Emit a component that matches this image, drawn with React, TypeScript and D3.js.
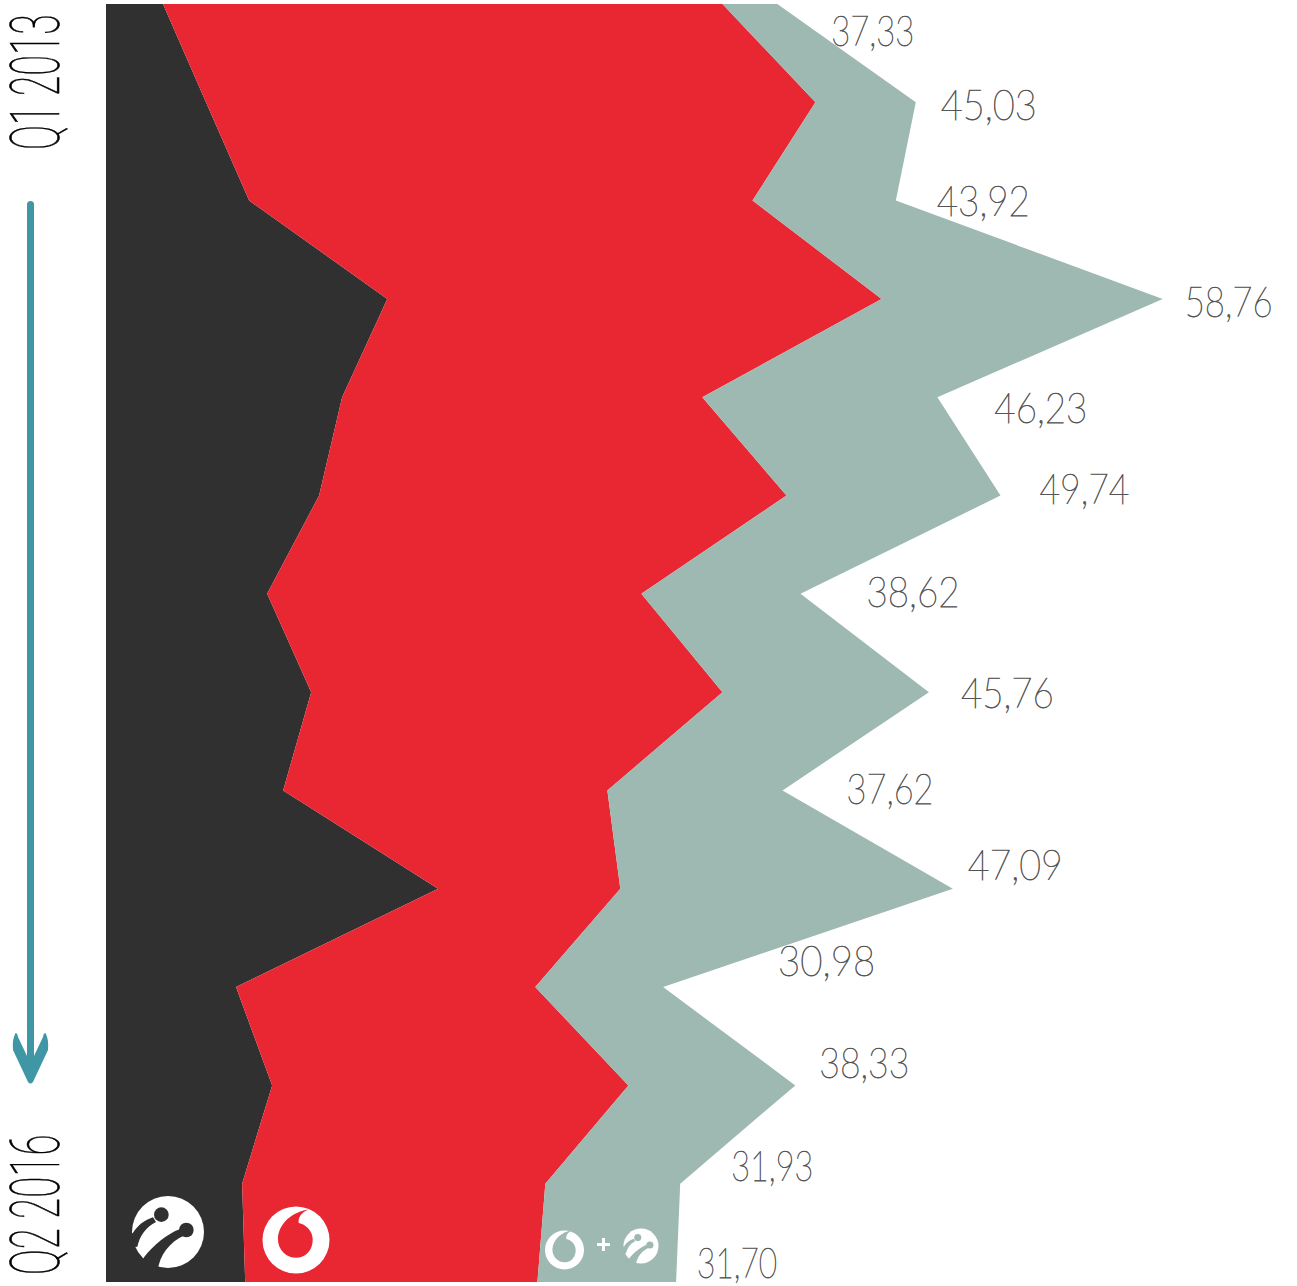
import React from "react";
import * as d3 from "d3";

const quarters = ["Q1 2013","Q2 2013","Q3 2013","Q4 2013","Q1 2014","Q2 2014","Q3 2014","Q4 2014","Q1 2015","Q2 2015","Q3 2015","Q4 2015","Q1 2016","Q2 2016"];
const turkcell = [3.17,5.56,7.96,15.64,13.13,11.85,8.96,11.41,9.85,18.47,7.23,9.24,7.57,7.74];
const vodafone = [31.11,33.89,27.99,27.49,20.03,25.99,20.81,22.87,18.03,10.13,16.64,19.81,16.86,16.25];
const totals = [37.33,45.03,43.92,58.76,46.23,49.74,38.62,45.76,37.62,47.09,30.98,38.33,31.93,31.70];
const totalLabels = ["37,33","45,03","43,92","58,76","46,23","49,74","38,62","45,76","37,62","47,09","30,98","38,33","31,93","31,70"];
const labelDx = [54,25,41,22,57,39,66,32,64,15,115,24,51,21];
const labelDy = [42,18,15.5,18,26,8,13,16,14,-9,-11,-7,-3,-4];
const labelWidth = [83,96,93,88,93,90,93,93,87,95,97,90,82,80];

const COL = { dark: "#303030", red: "#e82733", grey: "#9eb8b2", teal: "#3f97a5", text: "#555555" };

const rows = quarters.map((q, i) => ({
  q,
  turkcell: turkcell[i],
  vodafone: vodafone[i],
  combined: totals[i] - turkcell[i] - vodafone[i],
}));

const x = d3.scaleLinear().domain([0, 58.76]).range([106, 1162.7]);
const y = d3.scalePoint<string>().domain(quarters).range([4, 1282]);
const stack = d3.stack<any>().keys(["turkcell", "vodafone", "combined"]);
const layers = stack(rows);
const area = d3
  .area<any>()
  .y((d) => y(d.data.q)!)
  .x0((d) => x(d[0]))
  .x1((d) => x(d[1]))
  .curve(d3.curveLinear);
const fills = [COL.dark, COL.red, COL.grey];

function TurkcellLogo({ cx, cy, r, bg }: { cx: number; cy: number; r: number; bg: string }) {
  const s = r / 108;
  return (
    <g transform={`translate(${cx},${cy}) scale(${s}) translate(-130,-124)`}>
      <circle cx={130} cy={124} r={108} fill="#fff" />
      <path d="M85,80 C60,88 38,105 24,128 L10,130 L20,170 L38,168 C45,135 65,108 94,94 Z" fill={bg} />
      <path d="M165,116 C130,128 85,165 58,200 L40,245 L98,245 C105,190 135,155 180,134 Z" fill={bg} />
      <circle cx={110} cy={72} r={22} fill={bg} />
      <circle cx={185} cy={118} r={22} fill={bg} />
    </g>
  );
}

function VodafoneLogo({ cx, cy, r, bg, inner = 1 }: { cx: number; cy: number; r: number; bg: string; inner?: number }) {
  const s = r / 100;
  return (
    <g transform={`translate(${cx},${cy}) scale(${s}) translate(-122,-119)`}>
      <circle cx={122} cy={119} r={100} fill="#fff" />
      <g transform={`translate(122,105) scale(${inner}) translate(-122,-105)`}>
        <path
          d="M160,28 C110,35 70,70 68,115 C68,150 95,172 122,172 C150,172 172,150 172,118 C172,90 150,72 130,68 C128,50 140,35 160,28 Z"
          fill={bg}
        />
      </g>
    </g>
  );
}

export default function App() {
  return (
    <svg
      width={1297}
      height={1286}
      style={{ position: "absolute", left: 0, top: 0, display: "block" }}
    >
      {layers.map((layer, i) => (
        <path key={i} d={area(layer as any) ?? ""} fill={fills[i]} />
      ))}

      {totalLabels.map((t, i) => (
        <text
          key={t + i}
          x={x(totals[i]) + labelDx[i]}
          y={y(quarters[i])! + labelDy[i]}
          fontFamily="Lato"
          fontWeight={200}
          fontSize={41}
          textLength={labelWidth[i]}
          lengthAdjust="spacingAndGlyphs"
          fill={COL.text}
          stroke={COL.text}
          strokeWidth={0.75}
        >
          {t}
        </text>
      ))}

      <text
        transform="translate(59,150) rotate(-90) scale(0.54,1)"
        fontFamily="Roboto"
        fontWeight={100}
        fontSize={69}
        fill="#000"
        stroke="#000"
        strokeWidth={0.6}
      >
        Q1 2013
      </text>
      <text
        transform="translate(59,1275) rotate(-90) scale(0.56,1)"
        fontFamily="Roboto"
        fontWeight={100}
        fontSize={69}
        fill="#000"
        stroke="#000"
        strokeWidth={0.6}
      >
        Q2 2016
      </text>

      <rect x={27} y={201} width={7} height={860} rx={3.5} fill={COL.teal} />
      <path
        d="M15.5,1033 Q12,1040 13,1050 L28,1082 Q30.5,1085 33,1082 L48,1050 Q49,1040 45.5,1033 Q43.5,1033 43,1037 L34,1056 L27,1056 L18,1037 Q17.5,1033 15.5,1033 Z"
        fill={COL.teal}
      />

      <TurkcellLogo cx={168} cy={1232} r={36} bg={COL.dark} />
      <VodafoneLogo cx={296} cy={1240} r={33.5} bg={COL.red} />
      <VodafoneLogo cx={564.5} cy={1250} r={19.5} bg={COL.grey} inner={1.15} />
      <path d="M597,1244.5 H610 M603.5,1238 V1251" stroke="#fff" strokeWidth={3} fill="none" />
      <TurkcellLogo cx={641} cy={1246} r={17.5} bg={COL.grey} />
    </svg>
  );
}
